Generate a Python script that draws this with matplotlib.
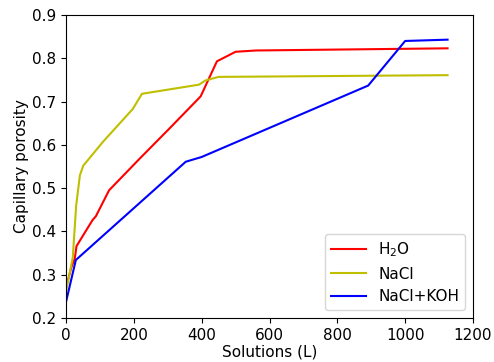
import matplotlib
matplotlib.use('Agg')
import matplotlib.pyplot as plt

# values
h2o_x = [0, 15, 26, 31, 78, 88, 127, 217, 304, 397, 445, 500, 560, 1125]
h2o_y = [0.27, 0.315, 0.338, 0.366, 0.426, 0.435, 0.495, 0.568, 0.637, 0.712, 0.793, 0.815, 0.818, 0.823]

nacl_x = [0, 10, 20, 30, 41, 51, 109, 153, 197, 224, 392, 412, 450, 1125]
nacl_y = [0.26, 0.30, 0.34, 0.46, 0.53, 0.552, 0.607, 0.645, 0.683, 0.718, 0.739, 0.749, 0.757, 0.761]

koh_x = [0, 29, 353, 400, 891, 1000, 1125]
koh_y = [0.237, 0.334, 0.561, 0.572, 0.737, 0.840, 0.843]

fig = plt.figure(figsize=(4.94, 3.62), dpi=100)
ax = fig.add_axes([0.1336, 0.1215, 0.8239, 0.8371])

ax.plot(h2o_x, h2o_y, color='r', label='H$_2$O')
ax.plot(nacl_x, nacl_y, color='y', label='NaCl')
ax.plot(koh_x, koh_y, color='b', label='NaCl+KOH')

ax.set_xlim(0, 1200)
ax.set_ylim(0.2, 0.9)
ax.set_xlabel('Solutions (L)', fontsize=11, labelpad=1)
ax.set_ylabel('Capillary porosity', fontsize=11, labelpad=2)
ax.tick_params(labelsize=11)
ax.legend(loc='lower right', fontsize=11, handlelength=2.3)

fig.savefig('out.png', dpi=100)
